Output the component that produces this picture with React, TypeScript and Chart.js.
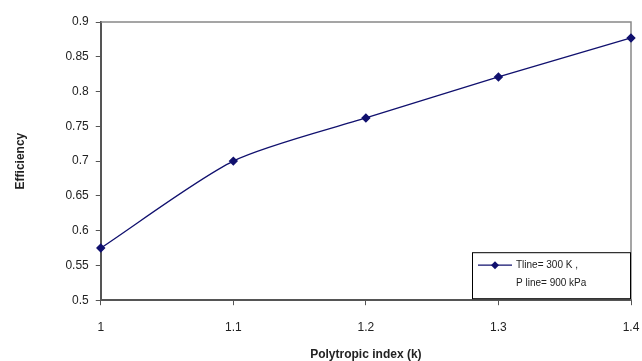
import React, { useEffect, useRef } from "react";
import { Chart, registerables } from "chart.js";

Chart.register(...registerables);

const xValues = [1.0, 1.1, 1.2, 1.3, 1.4];
const efficiency = [0.575, 0.7, 0.762, 0.821, 0.877];
const legendLines = ["Tline= 300 K ,", "P line= 900 kPa"];
const xTitle = "Polytropic index (k)";
const yTitle = "Efficiency";

const NAVY = "#10106e";
const FONT = "'Liberation Sans', Arial, sans-serif";

const legendPlugin = {
  id: "boxLegend",
  afterDraw(chart: any) {
    const { ctx, chartArea } = chart;
    const w = 158;
    const h = 46;
    const x = chartArea.right - w - 1;
    const y = chartArea.bottom - h - 2;
    ctx.save();
    ctx.fillStyle = "#ffffff";
    ctx.fillRect(x, y, w, h);
    ctx.strokeStyle = "#000000";
    ctx.lineWidth = 1;
    ctx.strokeRect(x + 0.5, y + 0.5, w, h);
    const ly = y + 13;
    ctx.strokeStyle = NAVY;
    ctx.lineWidth = 1.3;
    ctx.beginPath();
    ctx.moveTo(x + 6, ly);
    ctx.lineTo(x + 40, ly);
    ctx.stroke();
    ctx.fillStyle = NAVY;
    ctx.beginPath();
    const cx = x + 23;
    ctx.moveTo(cx, ly - 4);
    ctx.lineTo(cx + 4, ly);
    ctx.lineTo(cx, ly + 4);
    ctx.lineTo(cx - 4, ly);
    ctx.closePath();
    ctx.fill();
    ctx.fillStyle = "#222222";
    ctx.font = `10px ${FONT}`;
    ctx.textBaseline = "middle";
    ctx.fillText(legendLines[0], x + 44, ly);
    ctx.fillText(legendLines[1], x + 44, ly + 18);
    ctx.restore();
  },
};

export default function App() {
  const ref = useRef<HTMLCanvasElement>(null);
  useEffect(() => {
    document.body.style.margin = "0";
    const chart = new Chart(ref.current!, {
      type: "line",
      data: {
        datasets: [
          {
            data: xValues.map((x, i) => ({ x, y: efficiency[i] })),
            borderColor: NAVY,
            backgroundColor: NAVY,
            borderWidth: 1.3,
            pointStyle: "rectRot",
            pointRadius: 3.8,
            pointBackgroundColor: NAVY,
            pointBorderColor: NAVY,
            tension: 0.25,
            clip: false,
          },
        ],
      },
      options: {
        animation: false,
        responsive: false,
        layout: { padding: { left: 13, right: 11, top: 22, bottom: -1 } },
        plugins: { legend: { display: false }, tooltip: { enabled: false } },
        scales: {
          x: {
            type: "linear",
            min: 1,
            max: 1.4,
            afterFit: (s: any) => {
              s.paddingRight = 0;
            },
            ticks: {
              stepSize: 0.1,
              color: "#222",
              font: { family: FONT, size: 12 },
              padding: 15,
              callback: (v: any) => String(Math.round(Number(v) * 10) / 10),
            },
            grid: {
              drawOnChartArea: false,
              drawTicks: true,
              tickLength: 5,
              color: "#555",
            },
            border: { color: "#555", width: 2 },
            title: {
              display: true,
              text: xTitle,
              color: "#222",
              font: { family: FONT, size: 12, weight: "bold" },
              padding: { top: -2, bottom: 0 },
            },
          },
          y: {
            type: "linear",
            min: 0.5,
            max: 0.9,
            ticks: {
              stepSize: 0.05,
              color: "#222",
              font: { family: FONT, size: 12 },
              padding: 7,
              callback: (v: any) => String(Math.round(Number(v) * 100) / 100),
            },
            grid: {
              drawOnChartArea: false,
              drawTicks: true,
              tickLength: 5,
              color: "#555",
            },
            border: { color: "#555", width: 2 },
            title: {
              display: true,
              text: yTitle,
              color: "#222",
              font: { family: FONT, size: 12, weight: "bold" },
              padding: { top: 0, bottom: 31 },
            },
          },
        },
      },
      plugins: [
        legendPlugin,
        {
          id: "frame",
          beforeDatasetsDraw(chart: any) {
            const { ctx, chartArea } = chart;
            ctx.save();
            ctx.strokeStyle = "#888";
            ctx.lineWidth = 1.5;
            ctx.beginPath();
            ctx.moveTo(chartArea.left, chartArea.top);
            ctx.lineTo(chartArea.right, chartArea.top);
            ctx.lineTo(chartArea.right, chartArea.bottom);
            ctx.stroke();
            ctx.restore();
          },
        },
      ],
    } as any);
    return () => chart.destroy();
  }, []);
  return (
    <div style={{ width: 642, height: 361 }}>
      <canvas ref={ref} width={642} height={361} />
    </div>
  );
}
